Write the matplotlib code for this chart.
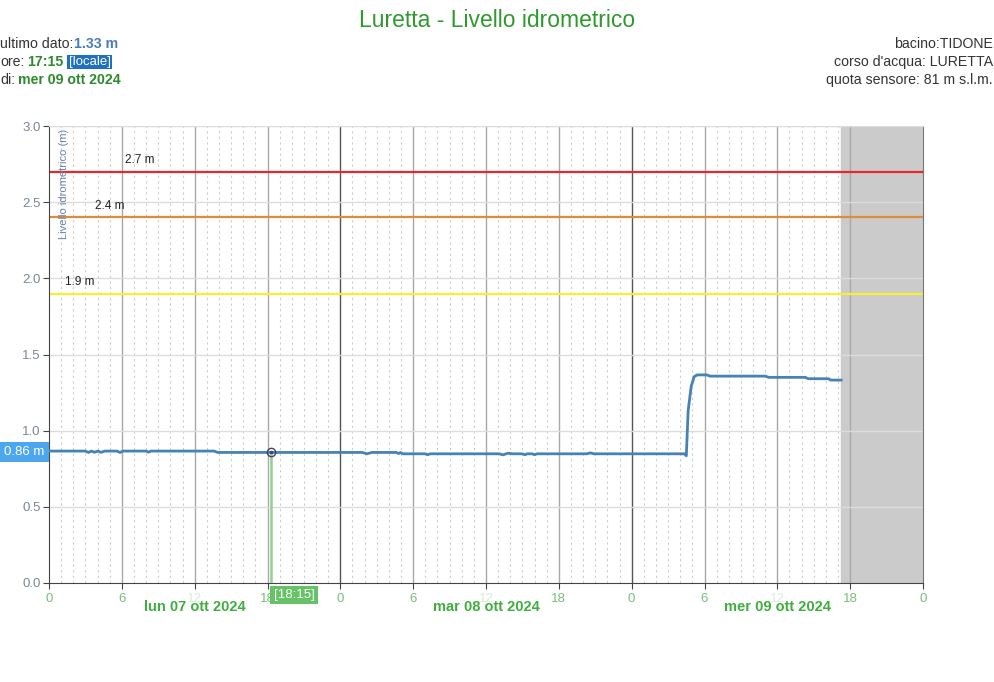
import matplotlib.pyplot as plt
from matplotlib.ticker import MultipleLocator

plt.rcParams['font.family'] = ['Liberation Sans', 'DejaVu Sans']

# hours since lun 07 ott 2024 00:00 and water level (m)
hours = [0, 3.0, 3.25, 3.5, 3.75, 4.0, 4.3, 4.6, 5.6, 5.85, 6.1, 8.0, 8.2, 8.4,
         13.6, 13.9, 25.8, 26.2, 26.6, 28.6, 28.8, 28.95, 29.15, 31.0, 31.2, 31.4,
         37.1, 37.4, 37.8, 38.2, 39.0, 39.2, 39.4, 39.8, 40.0, 40.2, 44.3, 44.6, 44.9,
         52.35, 52.5, 52.65, 52.9, 53.15, 53.4, 54.2, 54.45, 59.0, 59.3, 62.3, 62.55,
         64.2, 64.4, 65.25]
levels = [0.866, 0.866, 0.857, 0.866, 0.858, 0.866, 0.858, 0.866, 0.866, 0.857, 0.866,
          0.866, 0.859, 0.866, 0.866, 0.857, 0.857, 0.848, 0.857, 0.857, 0.850, 0.856,
          0.848, 0.848, 0.842, 0.848, 0.848, 0.841, 0.852, 0.848, 0.848, 0.842, 0.848,
          0.848, 0.842, 0.848, 0.848, 0.854, 0.848, 0.848, 0.835, 1.13, 1.29, 1.355,
          1.366, 1.366, 1.358, 1.358, 1.35, 1.35, 1.341, 1.341, 1.332, 1.332]

thresholds = [2.7, 2.4, 1.9]
threshold_colors = ['#e8262b', '#e08a3c', '#f2f230']
threshold_label_x = [6.3, 3.8, 1.3]

tick_hours = list(range(0, 73, 6))
tick_labels = ['0', '6', '12', '18'] * 3 + ['0']
day_labels = ['lun 07 ott 2024', 'mar 08 ott 2024', 'mer 09 ott 2024']
day_centers = [12, 36, 60]
last_hour = 65.25
marker_hour, marker_level = 18.25, 0.858

fig = plt.figure(figsize=(9.94, 6.82), dpi=100)
ax = fig.add_axes([0.0493, 0.1452, 0.8793, 0.67])

ax.set_xlim(0, 72)
ax.set_ylim(0, 3.0)

# future (no data) area
ax.axvspan(last_hour, 72, color='#cbcbcb', zorder=0)

# grids
for h in range(1, 72):
    if h % 6:
        ax.axvline(h, color='#cccccc', lw=0.8, ls=(0, (2, 3)), zorder=1)
for h in range(6, 72, 6):
    c = '#555555' if h % 24 == 0 else '#a8a8a8'
    ax.axvline(h, color=c, lw=1.0, zorder=1)
for y in [0.5, 1.0, 1.5, 2.0, 2.5, 3.0]:
    ax.axhline(y, color='#dcdcdc', lw=1.0, zorder=1)

for t, c, lx in zip(thresholds, threshold_colors, threshold_label_x):
    ax.axhline(t, color=c, lw=1.6, zorder=2)
    ax.text(lx, t + 0.035, f'{t} m', fontsize=8.5, color='#222222', ha='left', va='bottom')

ax.plot(hours, levels, color='#4682b4', lw=2.0, zorder=4)

# hover marker
ax.plot([marker_hour, marker_hour], [0, marker_level], color='#8fd18f', lw=1.8, zorder=3)
ax.plot(marker_hour, marker_level, 'o', ms=6, mfc='none', mec='#444466', mew=1, zorder=5)
ax.plot(marker_hour, marker_level, 'o', ms=1.5, color='#444466', zorder=5)
ax.text(marker_hour + 0.25, -0.04, '[18:15]', fontsize=9.5, color='white', ha='left', va='top',
        bbox=dict(boxstyle='square,pad=0.25', fc='#66c266', ec='none'), zorder=6, clip_on=False)
ax.text(-0.35, marker_level, '0.86 m', fontsize=9.5, color='white', ha='right', va='center',
        bbox=dict(boxstyle='square,pad=0.3', fc='#4da6f0', ec='none'), zorder=6, clip_on=False)

# axes styling
ax.spines['top'].set_color('#dcdcdc')
ax.spines['left'].set_color('#444444')
ax.spines['bottom'].set_color('#444444')
ax.spines['right'].set_color('#777777')
ax.set_xticks(tick_hours)
ax.set_xticklabels(tick_labels)
ax.tick_params(axis='x', colors='#444444', labelcolor='#78bf78', labelsize=9.5, length=4, pad=3)
ax.yaxis.set_major_locator(MultipleLocator(0.5))
ax.yaxis.set_major_formatter(lambda v, p: f'{v:.1f}')
ax.tick_params(axis='y', colors='#444444', labelcolor='#7a8699', labelsize=9.5, length=4, pad=2)
for lbl in ax.get_xticklabels()[2::4]:
    lbl.set_color('#d8ecd8')

for d, c in zip(day_labels, day_centers):
    ax.text(c, -0.11, d, fontsize=10.5, fontweight='bold', color='#3fae3f',
            ha='center', va='top', transform=ax.transData, clip_on=False)

ax.text(0.011, 0.995, 'Livello idrometrico (m)', transform=ax.transAxes, rotation=90,
        fontsize=8, color='#6a86a8', ha='left', va='top')

# header
fig.text(0.5, 0.97, 'Luretta - Livello idrometrico', fontsize=16.5, color='#2e9a2e',
         ha='center', va='center')
fig.text(0.0005, 0.935, 'ultimo dato:', fontsize=10.2, color='#333333', ha='left', va='center')
fig.text(0.0745, 0.935, '1.33 m', fontsize=10.2, color='#4a7fb5', fontweight='bold', ha='left', va='center')
fig.text(0.0005, 0.909, 'ore:', fontsize=10.2, color='#333333', ha='left', va='center')
fig.text(0.027, 0.909, '17:15', fontsize=10.2, color='#2e8b2e', fontweight='bold', ha='left', va='center')
fig.text(0.069, 0.909, '[locale]', fontsize=9.5, color='white', ha='left', va='center',
         bbox=dict(boxstyle='square,pad=0.1', fc='#1f6fc2', ec='none'))
fig.text(0.0005, 0.883, 'di:', fontsize=10.2, color='#333333', ha='left', va='center')
fig.text(0.018, 0.883, 'mer 09 ott 2024', fontsize=10.2, color='#2e8b2e', fontweight='bold',
         ha='left', va='center')
fig.text(0.999, 0.935, 'bacino:TIDONE', fontsize=10.2, color='#333333', ha='right', va='center')
fig.text(0.999, 0.909, "corso d'acqua: LURETTA", fontsize=10.2, color='#333333', ha='right', va='center')
fig.text(0.999, 0.883, 'quota sensore: 81 m s.l.m.', fontsize=10.2, color='#333333', ha='right', va='center')

fig.savefig('out.png', dpi=100)
